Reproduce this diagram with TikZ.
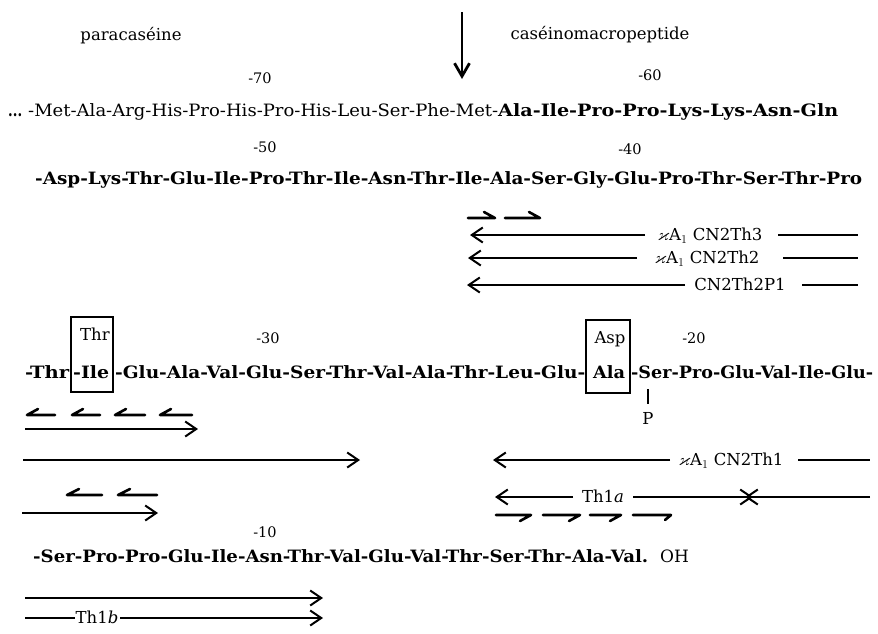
\documentclass[tikz,border=0pt]{standalone}
\usepackage{fontspec}
\setmainfont{DejaVu Serif}
\usepackage{amssymb}
\usetikzlibrary{arrows.meta}
\newcommand{\fitw}[2]{\resizebox{#1pt}{\height}{#2}}
\begin{document}
\begin{tikzpicture}[x=1pt,y=-1pt,
  seq/.style={inner sep=0pt, anchor=base west, font=\fontsize{17}{20}\selectfont\bfseries},
  reg/.style={inner sep=0pt, anchor=base west, font=\fontsize{17}{20}\selectfont},
  lab/.style={inner sep=0pt, anchor=base, font=\fontsize{16.5}{19}\selectfont},
  num/.style={inner sep=0pt, anchor=base, font=\fontsize{14.5}{16}\selectfont},
  arr/.style={line width=2pt, -{Straight Barb[length=11pt,width=15pt]}},
  plain/.style={line width=2pt},
  harp/.style={line width=2.6pt, line cap=round, line join=round},
  boxst/.style={draw, line width=2.4pt, inner sep=0pt},
  cutarr/.style={line width=2.8pt, -{Straight Barb[length=13pt,width=15pt]}}
]
\useasboundingbox (0,0) rectangle (878,633);

% top labels
\node[lab] (para) at (131,40) {paracaséine};
\node[lab] (cmp) at (600,39) {caséinomacropeptide};
\coordinate (cuttop) at (462,12);
\coordinate (cutbot) at (462,79);
\draw[cutarr] (cuttop) -- (cutbot);

% numbers
\node[num] (n70) at (260,83) {-70};
\node[num] (n60) at (650,80) {-60};
\node[num] (n50) at (265,152) {-50};
\node[num] (n40) at (630,154) {-40};
\node[num] (n30) at (268,343) {-30};
\node[num] (n20) at (694,343) {-20};
\node[num] (n10) at (265,537) {-10};

% line 1
\node[seq] (dots) at (8,116) {\fitw{14}{...}};
\node[reg] (l1a) at (28,116) {\fitw{470}{-Met-Ala-Arg-His-Pro-His-Pro-His-Leu-Ser-Phe-Met-}};
\node[seq] (l1b) at (498,116) {\fitw{340}{Ala-Ile-Pro-Pro-Lys-Lys-Asn-Gln}};

% line 2
\node[seq] (l2) at (35,184) {\fitw{827}{-Asp-Lys-Thr-Glu-Ile-Pro-Thr-Ile-Asn-Thr-Ile-Ala-Ser-Gly-Glu-Pro-Thr-Ser-Thr-Pro}};

% harpoons under line 2
\draw[harp] (468,218) -- (495,218) -- ++(-11,-6);
\draw[harp] (505,218) -- (540,218) -- ++(-11,-6);

% rows
\node[lab] (k3) at (710,240.5) {$\varkappa$A$_1$ CN2Th3};
\coordinate (k3a) at (645,235); \coordinate (k3tip) at (470,235);
\coordinate (k3b) at (778,235); \coordinate (k3c) at (858,235);
\draw[arr] (k3a) -- (k3tip);
\draw[plain] (k3b) -- (k3c);

\node[lab] (k2) at (707,263.5) {$\varkappa$A$_1$ CN2Th2};
\coordinate (k2a) at (637,258); \coordinate (k2tip) at (468,258);
\coordinate (k2b) at (783,258); \coordinate (k2c) at (858,258);
\draw[arr] (k2a) -- (k2tip);
\draw[plain] (k2b) -- (k2c);

\node[lab] (p1) at (740,290.5) {CN2Th2P1};
\coordinate (p1a) at (685,285); \coordinate (p1tip) at (467,285);
\coordinate (p1b) at (802,285); \coordinate (p1c) at (858,285);
\draw[arr] (p1a) -- (p1tip);
\draw[plain] (p1b) -- (p1c);

% line 3
\node[seq] (l3a) at (25,378) {\fitw{44}{-Thr}};
\node[seq] (l3b) at (73,378) {\fitw{36}{-Ile}};
\node[seq] (l3c) at (115,378) {\fitw{470}{-Glu-Ala-Val-Glu-Ser-Thr-Val-Ala-Thr-Leu-Glu-}};
\node[seq] (l3d) at (593,378) {\fitw{32}{Ala}};
\node[seq] (l3e) at (631,378) {\fitw{242}{-Ser-Pro-Glu-Val-Ile-Glu-}};
\node[boxst, minimum width=42pt, minimum height=75pt] (box1) at (92,354.5) {};
\node[boxst, minimum width=44pt, minimum height=73pt] (box2) at (608,356.5) {};
\node[lab] (thr) at (95,340) {Thr};
\node[lab] (asp) at (610,343) {Asp};
\coordinate (ptop) at (648,389); \coordinate (pbot) at (648,404);
\draw[line width=2.8pt] (ptop) -- (pbot);
\node[lab] (P) at (648,424) {P};

% left arrows
\draw[harp] (27,415) -- (55,415) (27,415) -- ++(11,-6);
\draw[harp] (72,415) -- (100,415) (72,415) -- ++(11,-6);
\draw[harp] (115,415) -- (145,415) (115,415) -- ++(11,-6);
\draw[harp] (160,415) -- (192,415) (160,415) -- ++(11,-6);
\coordinate (a1s) at (25,429); \coordinate (a1e) at (198,429);
\draw[arr] (a1s) -- (a1e);
\coordinate (a2s) at (23,460); \coordinate (a2e) at (360,460);
\draw[arr] (a2s) -- (a2e);
\draw[harp] (67,495) -- (102,495) (67,495) -- ++(12,-6);
\draw[harp] (118,495) -- (157,495) (118,495) -- ++(12,-6);
\coordinate (a3s) at (22,513); \coordinate (a3e) at (158,513);
\draw[arr] (a3s) -- (a3e);

% right lower rows
\node[lab] (k1) at (731,465.5) {$\varkappa$A$_1$ CN2Th1};
\coordinate (k1a) at (670,460); \coordinate (k1tip) at (493,460);
\coordinate (k1b) at (798,460); \coordinate (k1c) at (870,460);
\draw[arr] (k1a) -- (k1tip);
\draw[plain] (k1b) -- (k1c);

\node[lab] (tha) at (603,502.5) {Th1\textit{a}};
\coordinate (thaa) at (573,497); \coordinate (thatip) at (495,497);
\coordinate (thab) at (633,497); \coordinate (thax) at (753,497);
\coordinate (thac) at (870,497); \coordinate (thay) at (745,497);
\draw[arr] (thaa) -- (thatip);
\draw[arr] (thab) -- (thax);
\draw[arr] (thac) -- (thay);
\draw[harp] (496,515) -- (531,515) -- ++(-11,6);
\draw[harp] (543,515) -- (580,515) -- ++(-11,6);
\draw[harp] (590,515) -- (621,515) -- ++(-11,6);
\draw[harp] (633,515) -- (671,515) -- ++(-6,5);

% line 4
\node[seq] (l4) at (33,562) {\fitw{615}{-Ser-Pro-Pro-Glu-Ile-Asn-Thr-Val-Glu-Val-Thr-Ser-Thr-Ala-Val.}};
\node[reg] (oh) at (660,562) {OH};
\coordinate (a4s) at (25,598); \coordinate (a4e) at (323,598);
\draw[arr] (a4s) -- (a4e);
\node[lab] (thb) at (97,623.5) {Th1\textit{b}};
\coordinate (thbs) at (25,618); \coordinate (thbm) at (75,618);
\coordinate (thbn) at (120,618); \coordinate (thbe) at (323,618);
\draw[plain] (thbs) -- (thbm);
\draw[arr] (thbn) -- (thbe);
\end{tikzpicture}
\end{document}
